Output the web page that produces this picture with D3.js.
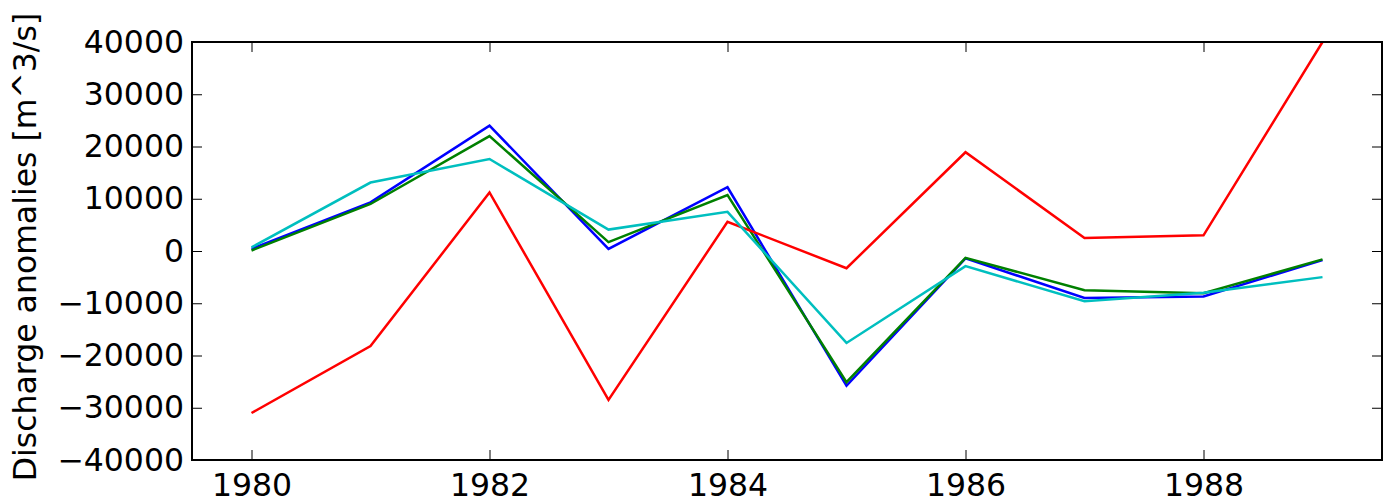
<!DOCTYPE html>
<html>
<head>
<meta charset="utf-8">
<script src="https://cdn.jsdelivr.net/npm/d3@7"></script>
<style>
  body { margin: 0; background: #fff; }
  text { font-family: "DejaVu Sans", sans-serif; }
</style>
</head>
<body>
<div id="chart"></div>
<script>
var years = [1980, 1981, 1982, 1983, 1984, 1985, 1986, 1987, 1988, 1989];

// one series per line, matplotlib default cycle order b, g, r, c
var blueVals  = [400, 9300, 24000, 400, 12200, -25800, -1400, -9000, -8700, -1750];
var greenVals = [100, 9000, 22000, 1700, 10700, -25100, -1300, -7500, -8100, -1600];
var redVals   = [-31000, -18200, 11200, -28500, 5600, -3300, 18900, 2500, 3000, 40000];
var cyanVals  = [700, 13100, 17600, 4100, 7500, -17600, -2900, -9600, -8000, -5000];

var seriesColors = ["#0000ff", "#008000", "#ff0000", "#00bfbf"];
var xTicks = [1980, 1982, 1984, 1986, 1988];
var yTicks = [-40000, -30000, -20000, -10000, 0, 10000, 20000, 30000, 40000];

var width = 1383, height = 503;
var margin = {left: 192, right: 1, top: 42, bottom: 43};

var svg = d3.select("#chart")
    .append("svg")
    .attr("width", width)
    .attr("height", height);

var x = d3.scaleLinear()
    .domain([1979.5, 1989.5])
    .range([margin.left, width - margin.right]);

var y = d3.scaleLinear()
    .domain([-40000, 40000])
    .range([height - margin.bottom, margin.top]);

// clip lines to the axes box
svg.append("clipPath")
    .attr("id", "clip")
    .append("rect")
    .attr("x", margin.left)
    .attr("y", margin.top)
    .attr("width", width - margin.left - margin.right)
    .attr("height", height - margin.top - margin.bottom);

var line = d3.line()
    .x(function(d, i) { return x(years[i]); })
    .y(function(d) { return y(d); });

var allSeries = [blueVals, greenVals, redVals, cyanVals];

svg.append("g")
    .attr("clip-path", "url(#clip)")
    .selectAll("path")
    .data(allSeries)
    .enter().append("path")
    .attr("fill", "none")
    .attr("stroke", function(d, i) { return seriesColors[i]; })
    .attr("stroke-width", 2.5)
    .attr("stroke-linejoin", "miter")
    .attr("d", line);

// ticks point inward on all four sides
var tickLen = 10;
var fontSize = 31.5;

var bottomAxis = d3.axisBottom(x).tickValues(xTicks).tickFormat(d3.format("d"))
    .tickSizeInner(-tickLen).tickSizeOuter(0).tickPadding(14);
var topAxis = d3.axisTop(x).tickValues(xTicks).tickFormat("")
    .tickSizeInner(-tickLen).tickSizeOuter(0);
var leftAxis = d3.axisLeft(y).tickValues(yTicks).tickFormat(d3.format("d"))
    .tickSizeInner(-tickLen).tickSizeOuter(0).tickPadding(8);
var rightAxis = d3.axisRight(y).tickValues(yTicks).tickFormat("")
    .tickSizeInner(-tickLen).tickSizeOuter(0);

function styleAxis(g) {
    g.select(".domain").remove();
    g.selectAll(".tick line").attr("stroke", "#000").attr("stroke-width", 1);
    g.selectAll("text")
        .attr("fill", "#000")
        .style("font-size", fontSize + "px")
        .style("font-family", "'DejaVu Sans', sans-serif");
}

svg.append("g")
    .attr("transform", "translate(0," + (height - margin.bottom) + ")")
    .call(bottomAxis)
    .call(styleAxis);

svg.append("g")
    .attr("transform", "translate(0," + margin.top + ")")
    .call(topAxis)
    .call(styleAxis);

svg.append("g")
    .attr("transform", "translate(" + margin.left + ",0)")
    .call(leftAxis)
    .call(styleAxis);

svg.append("g")
    .attr("transform", "translate(" + (width - margin.right) + ",0)")
    .call(rightAxis)
    .call(styleAxis);

// frame
svg.append("rect")
    .attr("x", margin.left)
    .attr("y", margin.top)
    .attr("width", width - margin.left - margin.right)
    .attr("height", height - margin.top - margin.bottom)
    .attr("fill", "none")
    .attr("stroke", "#000")
    .attr("stroke-width", 2);

// y label
svg.append("text")
    .attr("transform", "translate(36," + ((margin.top + height - margin.bottom) / 2 - 4) + ") rotate(-90)")
    .attr("text-anchor", "middle")
    .style("font-size", fontSize + "px")
    .attr("fill", "#000")
    .text("Discharge anomalies [m^3/s]");
</script>
</body>
</html>
